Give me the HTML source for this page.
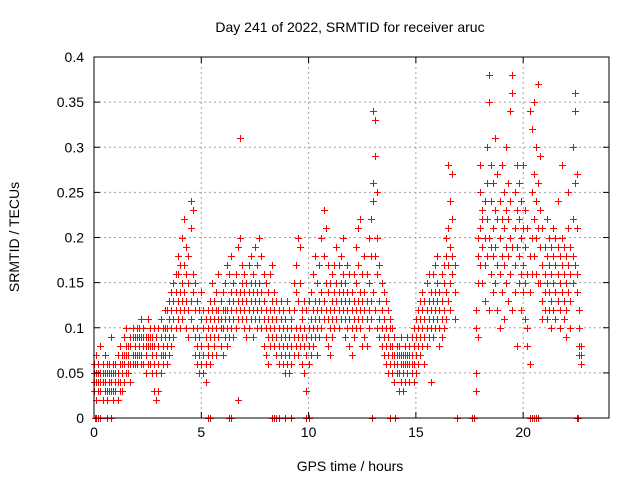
<!DOCTYPE html>
<html><head><meta charset="utf-8"><style>
body{margin:0;background:#fff}
svg{display:block;font-family:"Liberation Sans",sans-serif}
</style></head><body>
<svg id="chart" width="640" height="480">
<text x="350" y="32" text-anchor="middle" font-size="14">Day 241 of 2022, SRMTID for receiver aruc</text>
<text x="350" y="471" text-anchor="middle" font-size="14">GPS time / hours</text>
<text transform="translate(19,237) rotate(-90)" text-anchor="middle" font-size="14">SRMTID / TECUs</text>
<g id="grid"></g><g id="marks"></g><g id="axes"></g>
</svg>
<script>
const xTicks=[0,5,10,15,20];
const yTicks=[0,0.05,0.1,0.15,0.2,0.25,0.3,0.35,0.4];
const yTickLabels=["0","0.05","0.1","0.15","0.2","0.25","0.3","0.35","0.4"];
const hours=[0.0,0.1,0.2,0.3,0.4,0.5,0.6,0.7,0.8,0.9,1.0,1.1,1.2,1.3,1.4,1.5,1.6,1.7,1.8,1.9,2.0,2.1,2.2,2.3,2.4,2.5,2.6,2.7,2.8,2.9,3.0,3.1,3.2,3.3,3.4,3.5,3.6,3.7,3.8,3.9,4.0,4.1,4.2,4.3,4.4,4.5,4.6,4.7,4.8,4.9,5.0,5.1,5.2,5.3,5.4,5.5,5.6,5.7,5.8,5.9,6.0,6.1,6.2,6.3,6.4,6.5,6.6,6.7,6.8,6.9,7.0,7.1,7.2,7.3,7.4,7.5,7.6,7.7,7.8,7.9,8.0,8.1,8.2,8.3,8.4,8.5,8.6,8.7,8.8,8.9,9.0,9.1,9.2,9.3,9.4,9.5,9.6,9.7,9.8,9.9,10.0,10.1,10.2,10.3,10.4,10.5,10.6,10.7,10.8,10.9,11.0,11.1,11.2,11.3,11.4,11.5,11.6,11.7,11.8,11.9,12.0,12.1,12.2,12.3,12.4,12.5,12.6,12.7,12.8,12.9,13.0,13.1,13.2,13.3,13.4,13.5,13.6,13.7,13.8,13.9,14.0,14.1,14.2,14.3,14.4,14.5,14.6,14.7,14.8,14.9,15.0,15.1,15.2,15.3,15.4,15.5,15.6,15.7,15.8,15.9,16.0,16.1,16.2,16.3,16.4,16.5,16.6,16.7,16.8,17.8,17.9,18.0,18.1,18.2,18.3,18.4,18.5,18.6,18.7,18.8,18.9,19.0,19.1,19.2,19.3,19.4,19.5,19.6,19.7,19.8,19.9,20.0,20.1,20.2,20.3,20.4,20.5,20.6,20.7,20.8,20.9,21.0,21.1,21.2,21.3,21.4,21.5,21.6,21.7,21.8,21.9,22.0,22.1,22.2,22.3,22.4,22.5,22.6,22.7];
const srmtid=[
[.04,.05,.03,.06],[.05,.02,.04,.07],[.03,.06,.05,.04],[.05,.08,.03,.04],[.04,.06,.02,.05],[.05,.07,.04,.03],[.03,.05,.06,.02],[.04,.06,.03,.05],[.05,.09,.04,.03],[.03,.05,.02,.06],
[.04,.06,.03,.05],[.05,.02,.07,.04],[.06,.04,.08,.03],[.05,.07,.03,.06],[.06,.09,.04,.07],[.07,.05,.08,.10],[.06,.08,.05,.07],[.08,.06,.09,.04],[.07,.09,.06,.10],[.08,.06,.09,.07],
[.09,.07,.10,.06],[.08,.10,.07,.09],[.07,.09,.11,.06],[.08,.06,.10,.09],[.07,.09,.05,.08],[.09,.06,.08,.11],[.08,.10,.06,.09],[.07,.09,.05,.08],[.06,.08,.03,.10],[.07,.02,.05,.09],
[.08,.03,.06,.10],[.09,.07,.11,.05],[.08,.06,.10,.07],[.09,.12,.07,.10],[.10,.08,.12,.06],[.11,.09,.13,.07],[.12,.10,.14,.08],[.13,.11,.15,.09],[.12,.14,.10,.16],[.13,.11,.16,.18],
[.14,.12,.17,.10],[.15,.13,.20,.11],[.14,.17,.12,.22],[.13,.16,.10,.19],[.12,.15,.09,.18],[.13,.21,.24,.11],[.14,.23,.10,.16],[.12,.09,.15,.07],[.10,.08,.13,.06],[.09,.12,.07,.05],
[.08,.11,.06,.14],[.07,.10,.05,.12],[.09,.06,.11,.04],[.08,.12,.07,.10],[.09,.13,.06,.11],[.10,.07,.12,.15],[.11,.08,.13,.09],[.10,.14,.07,.12],[.12,.09,.16,.11],[.11,.13,.08,.10],
[.10,.12,.07,.14],[.11,.09,.15,.12],[.12,.10,.17,.08],[.13,.11,.09,.16],[.12,.14,.10,.18],[.11,.13,.09,.15],[.12,.10,.16,.14],[.13,.11,.19,.02],[.14,.12,.31,.20],[.13,.15,.11,.17],
[.12,.14,.10,.16],[.13,.11,.15,.09],[.14,.12,.17,.10],[.13,.15,.11,.18],[.12,.14,.09,.16],[.13,.11,.15,.19],[.14,.12,.17,.10],[.13,.15,.11,.20],[.12,.14,.10,.18],[.11,.13,.08,.16],
[.10,.12,.07,.15],[.11,.09,.14,.06],[.12,.10,.16,.08],[.11,.13,.09,.17],[.10,.12,.08,.14],[.09,.11,.07,.13],[.10,.08,.12,.06],[.09,.11,.07,.13],[.08,.10,.06,.12],[.09,.07,.11,.05],
[.08,.10,.06,.13],[.09,.07,.12,.05],[.08,.11,.06,.10],[.09,.12,.07,.15],[.10,.08,.14,.17],[.09,.13,.07,.20],[.10,.08,.15,.19],[.09,.12,.06,.11],[.08,.10,.05,.13],[.09,.07,.12,.03],
[.10,.08,.13,.06],[.11,.09,.14,.07],[.12,.10,.16,.08],[.11,.13,.09,.18],[.12,.10,.15,.07],[.13,.11,.17,.09],[.12,.14,.20,.10],[.13,.23,.11,.18],[.12,.15,.09,.21],[.11,.14,.08,.17],
[.12,.10,.15,.07],[.13,.11,.16,.09],[.12,.14,.10,.17],[.13,.11,.15,.19],[.14,.12,.17,.10],[.13,.15,.11,.18],[.14,.12,.16,.20],[.13,.11,.15,.09],[.12,.14,.10,.17],[.11,.13,.08,.16],
[.12,.10,.14,.07],[.11,.13,.09,.16],[.12,.10,.15,.19],[.13,.11,.17,.21],[.12,.14,.10,.22],[.13,.11,.16,.08],[.12,.14,.09,.18],[.11,.13,.08,.16],[.12,.10,.15,.20],[.13,.22,.11,.18],
[.24,.34,.26,.14],[.33,.29,.18,.12],[.25,.16,.10,.20],[.13,.09,.17,.11],[.12,.08,.15,.10],[.11,.07,.14,.09],[.10,.06,.13,.08],[.09,.05,.12,.07],[.10,.06,.08,.11],[.08,.05,.07,.10],
[.07,.04,.06,.09],[.06,.08,.05,.07],[.07,.05,.03,.08],[.06,.04,.07,.09],[.07,.05,.06,.03],[.06,.08,.04,.07],[.07,.05,.09,.06],[.08,.06,.04,.07],[.07,.09,.05,.06],[.08,.06,.10,.04],
[.09,.07,.11,.05],[.10,.08,.12,.06],[.11,.09,.13,.07],[.10,.12,.08,.14],[.11,.09,.13,.06],[.12,.10,.15,.08],[.11,.13,.09,.16],[.12,.10,.14,.04],[.13,.11,.16,.09],[.14,.12,.17,.10],
[.13,.15,.11,.18],[.12,.14,.10,.08],[.13,.11,.16,.09],[.12,.15,.10,.17],[.14,.18,.11,.20],[.17,.28,.21,.13],[.15,.19,.24,.12],[.18,.16,.22,.27],[.14,.17,.11],
[.10,.05,.03,.12],[.15,.20,.09,.18],[.21,.25,.17,.28],[.19,.23,.15,.22],[.20,.17,.24,.13],[.22,.26,.18,.30],[.38,.35,.20,.12],[.24,.16,.28,.19],[.21,.18,.26,.14],[.19,.23,.15,.31],[.22,.17,.27,.12],[.20,.24,.16,.10],
[.18,.22,.14,.28],[.21,.17,.25,.11],[.19,.23,.15,.30],[.22,.18,.26,.13],[.20,.34,.16,.24],[.38,.36,.19,.12],[.21,.17,.25,.14],[.19,.23,.28,.08],[.18,.22,.15,.26],[.20,.16,.24,.12],
[.17,.21,.14,.28],[.19,.15,.23,.11],[.16,.10,.21,.08],[.18,.06,.14,.34],[.20,.16,.32,.25],[.22,.35,.18,.27],[.24,.30,.20,.16],[.37,.26,.21,.15],[.19,.23,.15,.29],[.17,.21,.13,.11],
[.16,.19,.12,.14],[.18,.15,.22,.11],[.17,.20,.14,.12],[.16,.19,.13,.10],[.18,.15,.21,.12],[.17,.20,.14,.11],[.16,.13,.19,.24],[.15,.18,.12,.10],[.17,.14,.20,.28],[.16,.19,.13,.11],
[.15,.18,.12,.09],[.17,.14,.21,.25],[.16,.19,.13,.10],[.18,.15,.22,.30],[.36,.34,.26,.17],[.21,.16,.14,.27],[.10,.08,.12,.07],[.08,.06,.07]
];
const zeroHours=[0.05,0.1,0.2,0.3,0.6,0.8,5.3,5.4,6.3,6.4,8.3,8.4,8.5,8.6,8.9,9.2,9.9,10.0,12.97,13.8,14.03,16.9,17.6,17.7,20.3,20.4,20.5,20.6,20.7,22.5,22.55];

const NS="http://www.w3.org/2000/svg";
const L=94,T=57,R=609,B=418,XMAX=24,YMAX=0.4;
function xs(h){return L+h*(R-L)/XMAX;}
function ys(v){return B-v*(B-T)/YMAX;}
function mk(tag,attrs,parent){const e=document.createElementNS(NS,tag);for(const k in attrs)e.setAttribute(k,attrs[k]);parent.appendChild(e);return e;}
const grid=document.getElementById('grid'),marks=document.getElementById('marks'),axes=document.getElementById('axes');
xTicks.forEach(t=>{
  const x=xs(t);
  if(t>0){const g=mk('line',{x1:x,y1:T,x2:x,y2:B,stroke:'#a0a0a0','stroke-dasharray':'2,3'},grid);
  
  }
  mk('line',{x1:x,y1:B,x2:x,y2:B-6,stroke:'#000'},axes);
  mk('line',{x1:x,y1:T,x2:x,y2:T+6,stroke:'#000'},axes);
  const lb=mk('text',{x:x,y:B+19,'text-anchor':'middle','font-size':14},axes);
  lb.textContent=t;
  
  
});
yTicks.forEach((t,i)=>{
  const y=ys(t);
  if(t>0&&t<YMAX){const g=mk('line',{x1:L,y1:y,x2:R,y2:y,stroke:'#a0a0a0','stroke-dasharray':'2,3'},grid);
  
  }
  mk('line',{x1:L,y1:y,x2:L+6,y2:y,stroke:'#000'},axes);
  mk('line',{x1:R,y1:y,x2:R-6,y2:y,stroke:'#000'},axes);
  const lb=mk('text',{x:L-10,y:y+5,'text-anchor':'end','font-size':14},axes);
  lb.textContent=yTickLabels[i];
  
  
});
let d='';
function plus(h,v){const x=Math.round(xs(h))+0.5,y=Math.round(ys(v))+0.5;d+=`M${x-3.5},${y}h7M${x},${y-3.5}v7`;}
hours.forEach((h,i)=>srmtid[i].forEach(v=>plus(h,v)));
zeroHours.forEach(h=>plus(h,0));
const p=mk('path',{d:d,stroke:'#ff0000','stroke-width':1,fill:'none'},marks);


const frame=mk('rect',{x:L,y:T,width:R-L,height:B-T,fill:'none',stroke:'#000','stroke-width':1},axes);


</script>
</body></html>
